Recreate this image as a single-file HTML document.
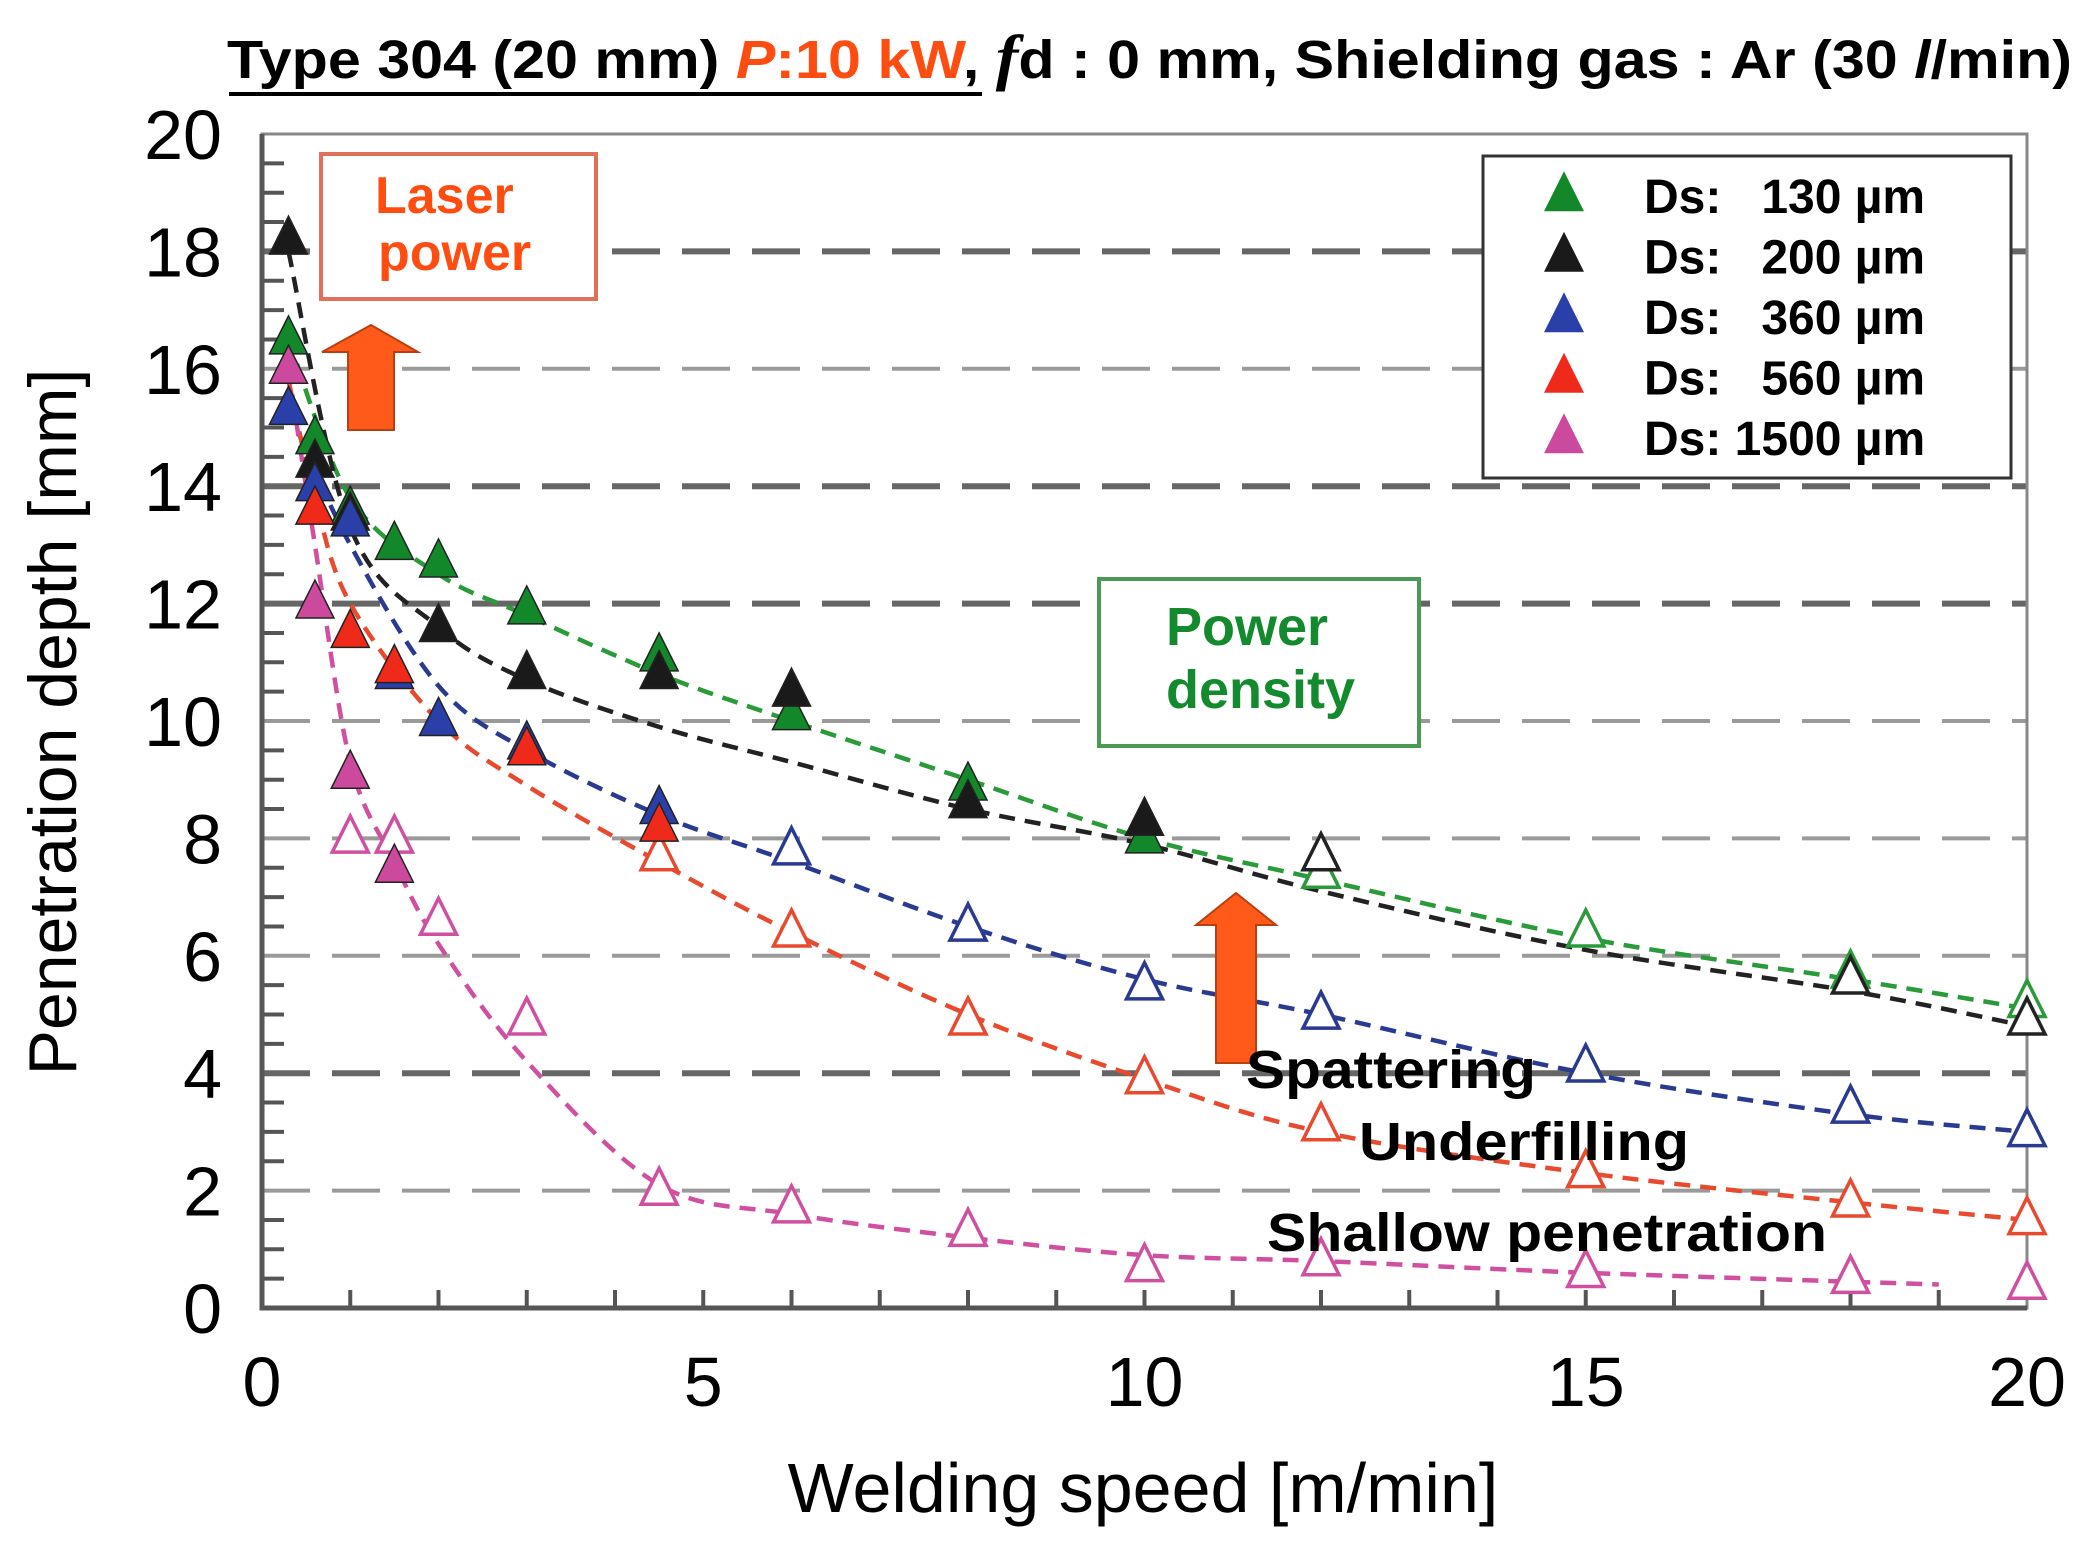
<!DOCTYPE html>
<html><head><meta charset="utf-8"><style>
html,body{margin:0;padding:0;background:#fff;}
svg{display:block;}
text{font-family:"Liberation Sans","DejaVu Sans",sans-serif;}
</style></head><body>
<svg id="chart" width="2085" height="1560" viewBox="0 0 2085 1560" xmlns="http://www.w3.org/2000/svg">
<g id="grid"></g>
<g id="axes"></g>
<g id="curves"></g>
<g id="marks"></g>
<g>
<text x="227" y="78" font-size="54" font-weight="bold" textLength="1845" lengthAdjust="spacingAndGlyphs"><tspan>Type 304 (20 mm) </tspan><tspan fill="#ff4d12" font-style="italic">P</tspan><tspan fill="#ff4d12">:10 kW</tspan><tspan>, </tspan><tspan font-style="italic" font-family="Liberation Serif" font-size="62">f</tspan><tspan>d : 0 mm, Shielding gas : Ar (30 </tspan><tspan font-style="italic">l</tspan><tspan>/min)</tspan></text>
<line x1="229" y1="94" x2="982" y2="94" stroke="#000" stroke-width="4"/>
</g>
<g>
<rect x="321" y="154" width="275" height="145" fill="#fff" stroke="#e0705a" stroke-width="4"/>
<text x="375" y="213" font-size="52" font-weight="bold" fill="#ff4d12">Laser</text>
<text x="378" y="270" font-size="52" font-weight="bold" fill="#ff4d12">power</text>
</g>
<polygon points="348,430 394,430 394,352 418,352 371,325 322,352 348,352" fill="#ff5a1a" stroke="#b84010" stroke-width="2"/>
<g>
<rect x="1099" y="579" width="320" height="167" fill="#fff" stroke="#4a9a55" stroke-width="4"/>
<text x="1166" y="645" font-size="54" font-weight="bold" fill="#138a2e">Power</text>
<text x="1166" y="708" font-size="54" font-weight="bold" fill="#138a2e">density</text>
</g>
<polygon points="1216,1063 1256,1063 1256,925 1276,925 1236,893 1196,925 1216,925" fill="#ff5a1a" stroke="#b84010" stroke-width="2"/>
<text x="1246" y="1088" font-size="54" font-weight="bold" textLength="290" lengthAdjust="spacingAndGlyphs">Spattering</text>
<text x="1359" y="1160" font-size="54" font-weight="bold" textLength="330" lengthAdjust="spacingAndGlyphs">Underfilling</text>
<text x="1267" y="1251" font-size="54" font-weight="bold" textLength="560" lengthAdjust="spacingAndGlyphs">Shallow penetration</text>
<g>
<rect x="1483" y="156" width="528" height="322" fill="#fff" stroke="#333" stroke-width="3"/>
<g id="legend-items"></g>
</g>
<text x="1143" y="1512" font-size="70" text-anchor="middle">Welding speed [m/min]</text>
<text transform="translate(76,722) rotate(-90)" font-size="68" text-anchor="middle">Penetration depth [mm]</text>
</svg>
<script>
const xTicks=[0,5,10,15,20];
const yTicks=[0,2,4,6,8,10,12,14,16,18,20];
const seriesNames=["Ds:   130 µm","Ds:   200 µm","Ds:   360 µm","Ds:   560 µm","Ds: 1500 µm"];
const seriesColors=["#12882a","#1a1a1a","#2a3fa8","#f02a1a","#cc4a9e"];
const lineColors=["#2a9a3a","#222","#2a3a90","#e84a30","#d050a0"];
// filled markers
const g130x=[0.3,0.6,1,1.5,2,3,4.5,6,8,10];
const g130y=[16.5,14.8,13.6,13.0,12.7,11.9,11.1,10.1,8.9,8.0];
const g200x=[0.3,0.6,1,2,3,4.5,6,8,10];
const g200y=[18.2,14.4,13.5,11.6,10.8,10.8,10.5,8.6,8.3];
const g360x=[0.3,0.6,1,1.5,2,3,4.5];
const g360y=[15.3,14.0,13.4,10.8,10.0,9.6,8.5];
const g560x=[0.6,1,1.5,3,4.5];
const g560y=[13.6,11.5,10.9,9.5,8.2];
const g1500x=[0.3,0.6,1,1.5];
const g1500y=[16.0,12.0,9.1,7.5];
// open markers
const o130x=[12,15,18,20];
const o130y=[7.4,6.4,5.7,5.2];
const o200x=[12,18,20];
const o200y=[7.7,5.6,4.9];
const o360x=[6,8,10,12,15,18,20];
const o360y=[7.8,6.5,5.5,5.0,4.1,3.4,3.0];
const o560x=[4.5,6,8,10,12,15,18,20];
const o560y=[7.7,6.4,4.9,3.9,3.1,2.3,1.8,1.5];
const o1500x=[1,1.5,2,3,4.5,6,8,10,12,15,18,20];
const o1500y=[8.0,8.0,6.6,4.9,2.0,1.7,1.3,0.7,0.8,0.6,0.5,0.4];
// fitted curves
const f130x=[0.3,1,2,3,4.5,6,8,10,12,15,18,20];
const f130y=[16.5,13.8,12.5,11.8,10.8,10.0,9.0,8.0,7.3,6.3,5.6,5.1];
const f200x=[0.3,1,2,3,4.5,6,8,10,12,15,18,20];
const f200y=[18.0,13.3,11.6,10.7,9.9,9.3,8.5,7.9,7.1,6.1,5.4,4.8];
const f360x=[0.3,1,2,3,4.5,6,8,10,12,15,18,20];
const f360y=[15.3,13.0,10.6,9.5,8.4,7.6,6.5,5.6,5.0,4.0,3.3,3.0];
const f560x=[0.3,0.6,1,2,3,4.5,6,8,10,12,15,18,20];
const f560y=[15.8,13.8,12.0,10.0,8.9,7.6,6.4,5.0,3.9,3.0,2.3,1.8,1.5];
const f1500x=[0.3,0.6,1,1.5,2,3,4.5,6,8,10,12,15,19];
const f1500y=[16.0,13.0,9.3,7.6,6.2,4.2,2.1,1.6,1.2,0.9,0.8,0.6,0.4];

const X0=262,X1=2027,Y0=1308,Y1=134;
const xs=v=>X0+(X1-X0)*v/20;
const ys=v=>Y0-(Y0-Y1)*v/20;
const NS="http://www.w3.org/2000/svg";
function mk(tag,parent){const e=document.createElementNS(NS,tag);parent.appendChild(e);return e;}
const grid=document.getElementById('grid'),axes=document.getElementById('axes'),curves=document.getElementById('curves'),marks=document.getElementById('marks');
const darkGrid=[4,12,14,18];
yTicks.forEach(v=>{
  if(v>0&&v<20){
    const l=mk('line',grid);
    
    
    l.setAttribute('x1',X0);l.setAttribute('x2',X1);l.setAttribute('y1',ys(v));l.setAttribute('y2',ys(v));
    const dk=darkGrid.includes(v);
    l.setAttribute('stroke',dk?'#666':'#9a9a9a');l.setAttribute('stroke-width',dk?6:4);l.setAttribute('stroke-dasharray','48 22');
  }
  const t=mk('text',axes);
  
  
  t.setAttribute('x',222);t.setAttribute('y',ys(v)+25);t.setAttribute('font-size',70);t.setAttribute('text-anchor','end');
  t.textContent=v;
});
for(let v=0;v<=20;v+=0.5){const l=mk('line',axes);l.setAttribute('x1',X0);l.setAttribute('x2',X0+(v%2===0?0:22));l.setAttribute('y1',ys(v));l.setAttribute('y2',ys(v));l.setAttribute('stroke','#555');l.setAttribute('stroke-width',4);}
for(let v=1;v<20;v++){const l=mk('line',axes);l.setAttribute('x1',xs(v));l.setAttribute('x2',xs(v));l.setAttribute('y1',Y0);l.setAttribute('y2',Y0-18);l.setAttribute('stroke','#555');l.setAttribute('stroke-width',4);}
xTicks.forEach(v=>{
  const t=mk('text',axes);
  
  
  t.setAttribute('x',xs(v));t.setAttribute('y',1406);t.setAttribute('font-size',70);t.setAttribute('text-anchor','middle');
  t.textContent=v;
});
const frame=mk('rect',axes);


frame.setAttribute('x',X0);frame.setAttribute('y',Y1);frame.setAttribute('width',X1-X0);frame.setAttribute('height',Y0-Y1);frame.setAttribute('fill','none');frame.setAttribute('stroke','#888');frame.setAttribute('stroke-width',3);
const ax=mk('path',axes);ax.setAttribute('d',`M${X0},${Y1}V${Y0}H${X1}`);ax.setAttribute('stroke','#555');ax.setAttribute('stroke-width',5);ax.setAttribute('fill','none');

const fits=[[f130x,f130y],[f200x,f200y],[f360x,f360y],[f560x,f560y],[f1500x,f1500y]];
const fills=[[g130x,g130y],[g200x,g200y],[g360x,g360y],[g560x,g560y],[g1500x,g1500y]];
const opens=[[o130x,o130y],[o200x,o200y],[o360x,o360y],[o560x,o560y],[o1500x,o1500y]];
const ids=['130','200','360','560','1500'];
function smooth(px,py){
  const p=px.map((x,i)=>[xs(x),ys(py[i])]);
  let d=`M${p[0][0]},${p[0][1]}`;
  for(let i=0;i<p.length-1;i++){
    const a=p[i-1]||p[i],b=p[i],c=p[i+1],e=p[i+2]||c;
    d+=`C${b[0]+(c[0]-a[0])/6},${b[1]+(c[1]-a[1])/6} ${c[0]-(e[0]-b[0])/6},${c[1]-(e[1]-b[1])/6} ${c[0]},${c[1]}`;
  }
  return d;
}
fits.forEach((f,i)=>{
  const p=mk('path',curves);
  
  
  p.setAttribute('d',smooth(f[0],f[1]));p.setAttribute('fill','none');p.setAttribute('stroke',lineColors[i]);p.setAttribute('stroke-width',4.5);p.setAttribute('stroke-dasharray','16 10');
});
function tri(cx,cy,s){return `${cx},${cy-s*0.62} ${cx-s/2},${cy+s*0.38} ${cx+s/2},${cy+s*0.38}`;}
opens.forEach((o,i)=>{
  o[0].forEach((x,j)=>{
    const t=mk('polygon',marks);
    
    
    t.setAttribute('points',tri(xs(x),ys(o[1][j]),36));t.setAttribute('fill','#fff');t.setAttribute('stroke',lineColors[i]);t.setAttribute('stroke-width',3.5);
  });
});
fills.forEach((o,i)=>{
  o[0].forEach((x,j)=>{
    const t=mk('polygon',marks);
    
    
    t.setAttribute('points',tri(xs(x),ys(o[1][j]),38));t.setAttribute('fill',seriesColors[i]);t.setAttribute('stroke','#222');t.setAttribute('stroke-width',1.5);
  });
});
const lg=document.getElementById('legend-items');
seriesNames.forEach((n,i)=>{
  const cy=196+i*60.5;
  const t=mk('polygon',lg);
  
  
  t.setAttribute('points',tri(1564,cy,40));t.setAttribute('fill',seriesColors[i]);
  const tx=mk('text',lg);
  
  
  tx.setAttribute('x',1644);tx.setAttribute('y',cy+17);tx.setAttribute('font-size',48);tx.setAttribute('font-weight','bold');tx.setAttribute('xml:space','preserve');tx.style.whiteSpace='pre';
  tx.textContent=n;
});
</script>
</body></html>
